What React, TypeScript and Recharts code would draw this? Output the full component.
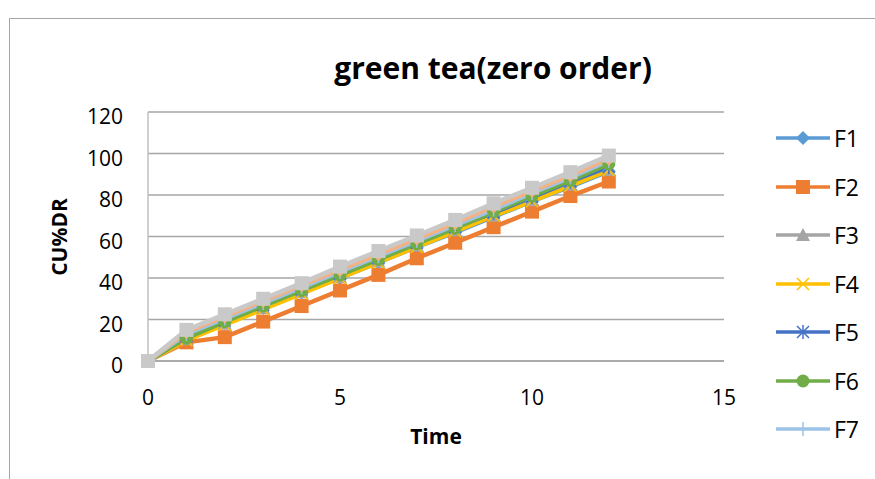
import React from 'react';
import { LineChart, Line, XAxis, YAxis, CartesianGrid } from 'recharts';

// sampling times (h)
const times = [0, 1, 2, 3, 4, 5, 6, 7, 8, 9, 10, 11, 12];

// cumulative % drug released per formulation
const F1 = [0, 11, 18.5, 25.5, 33, 40, 47.5, 55, 62, 69.5, 77, 84, 91.5];
const F2 = [0, 9, 11.5, 19, 26.5, 34, 41.5, 49.5, 57, 64.5, 72, 79.5, 86.5];
const F3 = [0, 10.5, 18, 25.5, 33, 40.5, 48, 55.5, 63, 70, 77.5, 85, 92];
const F4 = [0, 10, 17.5, 25, 32.5, 40, 47.5, 55, 62.5, 70, 77, 84.5, 92];
const F5 = [0, 12, 19.5, 27, 34.5, 42, 49.5, 57, 64.5, 71.5, 79, 86.5, 93.5];
const F6 = [0, 11, 19, 26.5, 34, 41.5, 49, 56.5, 64, 72, 79.5, 87, 95];
const F7 = [0, 13, 20.5, 28, 35.5, 43, 50.5, 58, 65.5, 73, 81, 88.5, 96.5];
const F8 = [0, 14, 21.5, 29, 36.5, 44, 51.5, 59, 66.5, 74.5, 82, 89.5, 97.5];
const F9 = [0, 15, 22.5, 30, 37.5, 45.5, 53, 60.5, 68, 76, 83.5, 91, 99];

const seriesNames = ['F1', 'F2', 'F3', 'F4', 'F5', 'F6', 'F7', 'F8', 'F9'];
const seriesValues = [F1, F2, F3, F4, F5, F6, F7, F8, F9];
const legendNames = ['F1', 'F2', 'F3', 'F4', 'F5', 'F6', 'F7'];

const xTicks = [0, 5, 10, 15];
const yTicks = [0, 20, 40, 60, 80, 100, 120];

const data = times.map((t, i) => {
  const row: Record<string, number> = { t };
  seriesNames.forEach((name, s) => {
    row[name] = seriesValues[s][i];
  });
  return row;
});

type Shape = 'diamond' | 'square' | 'triangle' | 'x' | 'star' | 'circle' | 'plus';

const STYLES: Record<string, { color: string; shape: Shape }> = {
  F1: { color: '#5B9BD5', shape: 'diamond' },
  F2: { color: '#ED7D31', shape: 'square' },
  F3: { color: '#A5A5A5', shape: 'triangle' },
  F4: { color: '#FFC000', shape: 'x' },
  F5: { color: '#4472C4', shape: 'star' },
  F6: { color: '#70AD47', shape: 'circle' },
  F7: { color: '#9DC3E6', shape: 'plus' },
  F8: { color: '#F4B183', shape: 'diamond' },
  F9: { color: '#C9C9C9', shape: 'square' },
};

const FONT = '"Open Sans", "Noto Sans", sans-serif';

function Marker({ shape, x, y, color }: { shape: Shape; x: number; y: number; color: string }) {
  const s = 7;
  switch (shape) {
    case 'diamond':
      return <path d={`M${x},${y - s} L${x + s},${y} L${x},${y + s} L${x - s},${y} Z`} fill={color} />;
    case 'square':
      return <rect x={x - s} y={y - s} width={s * 2} height={s * 2} fill={color} />;
    case 'triangle':
      return <path d={`M${x},${y - s} L${x + s},${y + s - 1} L${x - s},${y + s - 1} Z`} fill={color} />;
    case 'circle':
      return <circle cx={x} cy={y} r={6.5} fill={color} />;
    case 'x':
      return (
        <path
          d={`M${x - 6},${y - 6} L${x + 6},${y + 6} M${x + 6},${y - 6} L${x - 6},${y + 6}`}
          stroke={color}
          strokeWidth={1.5}
        />
      );
    case 'star':
      return (
        <path
          d={`M${x - 6},${y - 6} L${x + 6},${y + 6} M${x + 6},${y - 6} L${x - 6},${y + 6} M${x},${y - 7} L${x},${y + 7}`}
          stroke={color}
          strokeWidth={1.5}
        />
      );
    case 'plus':
      return (
        <path d={`M${x - 7},${y} L${x + 7},${y} M${x},${y - 7} L${x},${y + 7}`} stroke={color} strokeWidth={1.5} />
      );
    default:
      return null;
  }
}

function XTick({ x, y, payload }: any) {
  return (
    <text x={x} y={y + 36} textAnchor="middle" dominantBaseline="central" fontSize={21} fill="#000" fontFamily={FONT}>
      {payload.value}
    </text>
  );
}

function YTick({ x, y, payload }: any) {
  return (
    <text x={x - 25} y={y + 4} textAnchor="end" dominantBaseline="central" fontSize={21} fill="#000" fontFamily={FONT}>
      {payload.value}
    </text>
  );
}

function LegendBox() {
  return (
    <div style={{ position: 'absolute', left: 774, top: 114, fontFamily: FONT }}>
      {legendNames.map((name) => {
        const st = STYLES[name];
        return (
          <div key={name} style={{ display: 'flex', alignItems: 'center', height: 48.5 }}>
            <svg width={60} height={20} style={{ display: 'block' }}>
              <line x1={2} y1={10} x2={56} y2={10} stroke={st.color} strokeWidth={3.5} />
              <Marker shape={st.shape} x={29} y={10} color={st.color} />
            </svg>
            <span style={{ fontSize: 23, color: '#000', lineHeight: '20px' }}>{name}</span>
          </div>
        );
      })}
    </div>
  );
}

export default function App() {
  return (
    <div style={{ position: 'absolute', left: 0, top: 0, width: 875, height: 479, background: '#fff', overflow: 'hidden' }}>
      {/* chart frame */}
      <div
        style={{
          position: 'absolute',
          left: 9,
          top: 18,
          width: 900,
          height: 500,
          border: '1.5px solid #A6A6A6',
          boxSizing: 'border-box',
        }}
      />
      <div
        style={{
          position: 'absolute',
          left: 0,
          top: 46,
          width: 986,
          textAlign: 'center',
          fontFamily: FONT,
          fontWeight: 700,
          fontSize: 30,
          lineHeight: '44px',
          color: '#000',
        }}
      >
        green tea(zero order)
      </div>
      <div style={{ position: 'absolute', left: 0, top: 0 }}>
        <LineChart width={875} height={479} data={data} margin={{ top: 112, right: 151, bottom: 88, left: 88 }}>
          <CartesianGrid horizontal vertical={false} stroke="#A6A6A6" strokeWidth={1.5} />
          <XAxis
            dataKey="t"
            type="number"
            domain={[0, 15]}
            ticks={xTicks}
            tickSize={0}
            tickMargin={0}
            tick={<XTick />}
            height={30}
            stroke="#A6A6A6"
            strokeWidth={1.5}
          />
          <YAxis
            type="number"
            domain={[0, 120]}
            ticks={yTicks}
            tickSize={0}
            tickMargin={0}
            tick={<YTick />}
            width={60}
            stroke="#BFBFBF"
            strokeWidth={1.5}
          />
          {seriesNames.map((name) => {
            const st = STYLES[name];
            return (
              <Line
                key={name}
                dataKey={name}
                stroke={st.color}
                strokeWidth={4.5}
                isAnimationActive={false}
                dot={(p: any) => (
                  <g key={`${name}-${p.index}`}>
                    <Marker shape={st.shape} x={p.cx} y={p.cy} color={st.color} />
                  </g>
                )}
                activeDot={false}
              />
            );
          })}
        </LineChart>
      </div>
      <LegendBox />
      <div
        style={{
          position: 'absolute',
          left: 436,
          top: 436,
          transform: 'translate(-50%, -50%)',
          fontFamily: FONT,
          fontWeight: 700,
          fontSize: 21,
          color: '#000',
          whiteSpace: 'nowrap',
        }}
      >
        Time
      </div>
      <div
        style={{
          position: 'absolute',
          left: 59,
          top: 237,
          transform: 'translate(-50%, -50%) rotate(-90deg)',
          fontFamily: FONT,
          fontWeight: 700,
          fontSize: 21,
          color: '#000',
          whiteSpace: 'nowrap',
        }}
      >
        CU%DR
      </div>
    </div>
  );
}
